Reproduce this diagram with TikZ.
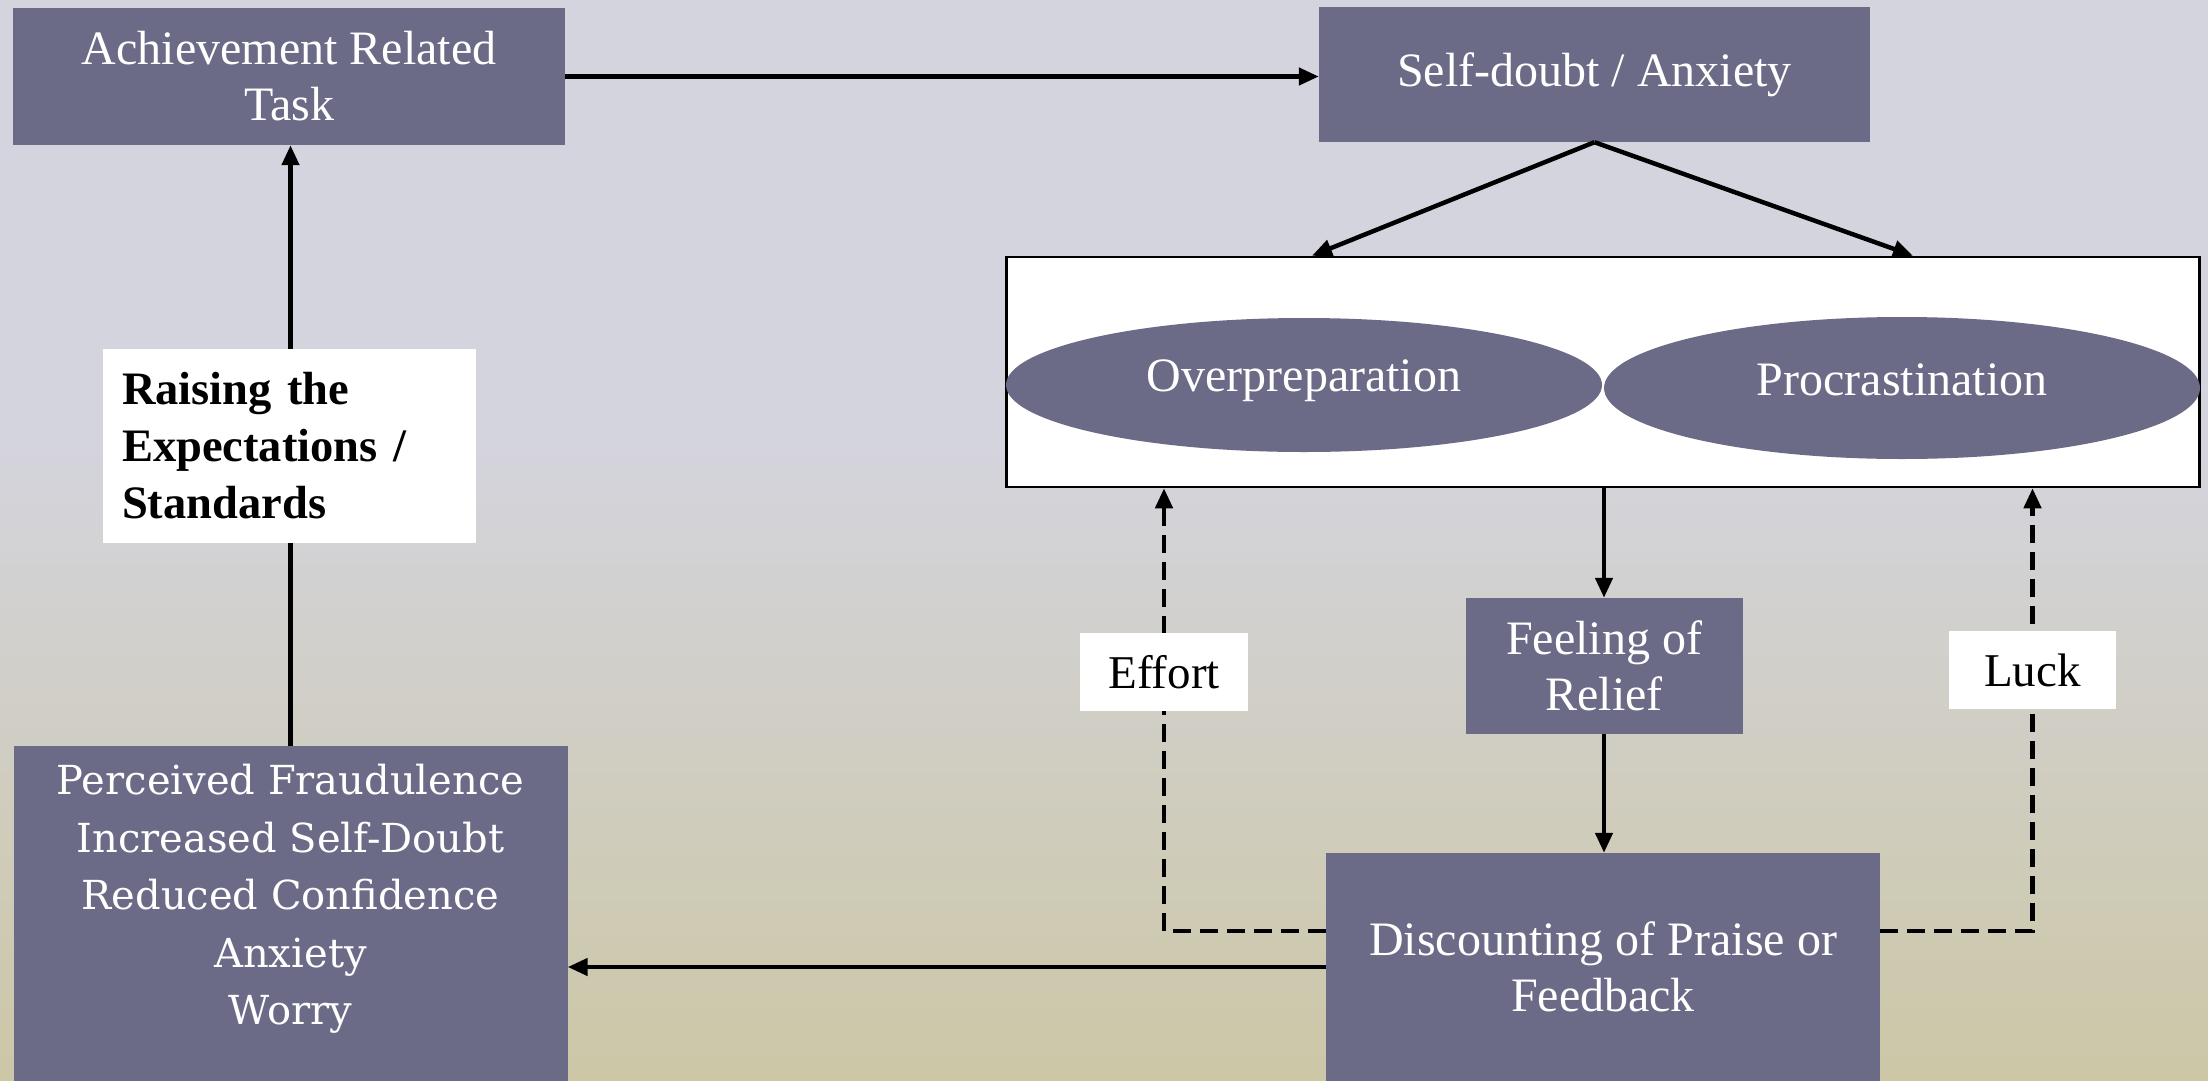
\documentclass[tikz,border=0pt]{standalone}
\usepackage{fontspec}
\setmainfont{Liberation Serif}
\newfontfamily\widerserif{DejaVu Serif}
\usetikzlibrary{arrows.meta,shapes.geometric}
\definecolor{bgtop}{RGB}{212,212,222}
\definecolor{bgbot}{RGB}{204,199,166}
\definecolor{boxfill}{RGB}{107,107,135}
\begin{document}
\begin{tikzpicture}[x=1pt,y=-1pt,
  darkbox/.style={rectangle,fill=boxfill,text=white,inner sep=0pt,align=center,font=\fontsize{48}{56}\selectfont},
  darkell/.style={ellipse,fill=boxfill,inner sep=0pt},
  elltext/.style={text=white,inner sep=0pt,font=\fontsize{48}{56}\selectfont},
  labelbox/.style={rectangle,fill=white,inner sep=0pt,font=\fontsize{47}{56}\selectfont},
  tip/.style={-{Triangle[length=20pt,width=17pt]}},
  conn/.style={line width=4.5pt,tip},
  dashconn/.style={line width=4.5pt,dash pattern=on 18pt off 9pt,tip}]
\useasboundingbox (0,0) rectangle (2208,1081);
% background
\fill[bgtop] (0,0) rectangle (2208,430);
\shade[top color=bgtop,bottom color=bgbot] (0,430) rectangle (2208,1081);
% nodes
\node[darkbox,minimum width=552,minimum height=137] (ach) at (289,76.5) {Achievement Related\\Task};
\node[darkbox,minimum width=551,minimum height=135] (sd) at (1594.5,74.5) {Self-doubt / Anxiety};
\node[draw,line width=2.5pt,fill=white,inner sep=0pt,minimum width=1193,minimum height=230] (big) at (1603,372) {};
\node[darkell,minimum width=596,minimum height=134] (over) at (1304,385) {};
\node[darkell,minimum width=596,minimum height=142] (proc) at (1902,388) {};
\node[elltext] (overtext) at (1304,381) {Overpreparation};
\node[elltext] (proctext) at (1902,380) {Procrastination};
\node[darkbox,minimum width=277,minimum height=136] (rel) at (1604,666) {Feeling of\\Relief};
\node[darkbox,minimum width=554,minimum height=228] (disc) at (1603,967) {Discounting of Praise or\\Feedback};
\node[rectangle,fill=boxfill,inner sep=0pt,minimum width=554,minimum height=335] (perc) at (290.5,913.5) {};
\node[text=white,align=center,inner sep=0pt,font=\widerserif\fontsize{40}{57.5}\selectfont] (perctext) at (290.5,899) {Perceived Fraudulence\\Increased Self-Doubt\\Reduced Confidence\\Anxiety\\Worry};
% connectors
\draw[conn] (ach.east) -- (ach.east -| sd.west);
\draw[conn] (sd.south) -- ([xshift=8pt]over.north |- big.north);
\draw[conn] (sd.south) -- ([xshift=11pt]proc.north |- big.north);
\draw[conn] (rel.north |- big.south) -- (rel.north);
\draw[conn] (rel.south) -- (rel.south |- disc.north);
\draw[conn] (disc.west) -- (disc.west -| perc.east);
\draw[conn] (perc.north) -- (perc.north |- ach.south);
% labels on connectors
\node[labelbox,minimum width=168,minimum height=78] (eff) at (1164,672) {};
\node[labelbox,minimum width=167,minimum height=78] (luck) at (2032.5,670) {};
\draw[dashconn] ([yshift=36pt]disc.west) -| (eff.center |- big.south);
\draw[dashconn] ([yshift=36pt]disc.east) -| (luck.center |- big.south);
\node[labelbox,minimum width=168,minimum height=78] (efftext) at (eff) {Effort};
\node[labelbox,minimum width=167,minimum height=78] (lucktext) at (luck) {Luck};
\node[labelbox,minimum width=373,minimum height=194,text width=335,align=left,font=\bfseries\fontsize{46.5}{57}\selectfont] (rais) at (289.5,446) {Raising the\\Expectations /\\Standards};
\end{tikzpicture}
\end{document}
